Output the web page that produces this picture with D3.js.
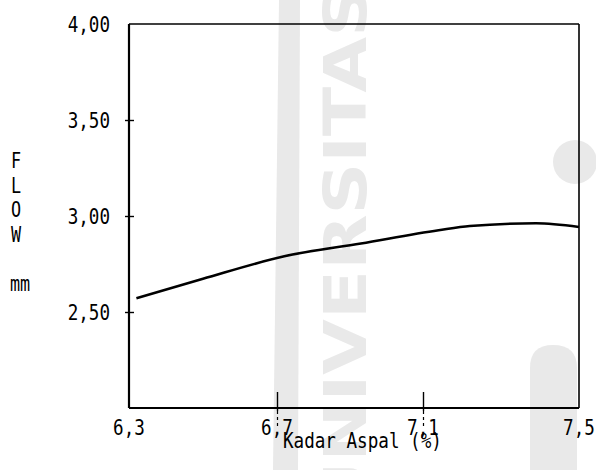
<!DOCTYPE html>
<html>
<head>
<meta charset="utf-8">
<script src="https://cdn.jsdelivr.net/npm/d3@7"></script>
<style>
  html, body { margin: 0; padding: 0; background: #fff; }
  svg { display: block; }
</style>
</head>
<body>
<svg id="chart" width="596" height="470"></svg>
<script>
// Flow (mm) against asphalt content (%)
const kadarAspal = [6.32, 6.5, 6.72, 6.93, 7.14, 7.22, 7.39, 7.5];
const flow       = [2.571, 2.673, 2.79, 2.857, 2.926, 2.948, 2.962, 2.943];

const xTickValues = [6.3, 6.7, 7.1, 7.5];
const xTickLabels = ["6,3", "6,7", "7,1", "7,5"];
const yTickValues = [2.5, 3.0, 3.5, 4.0];
const yTickLabels = ["2,50", "3,00", "3,50", "4,00"];

const xTitle = "Kadar Aspal (%)";
const yTitleLetters = ["F", "L", "O", "W"];
const yUnit = "mm";

const svg = d3.select("#chart");
const plotLeft = 129, plotRight = 579, plotTop = 24, plotBottom = 408;

// the hand-ruled x axis has slightly uneven tick spacing
const x = d3.scaleLinear().domain(xTickValues).range([plotLeft, 277, 423, plotRight]);
const y = d3.scaleLinear().domain([2.0, 4.0]).range([plotBottom, plotTop]);

const mono = "'DejaVu Sans Mono', 'Liberation Mono', monospace";
const squeeze = 0.8;

// faint background emblem
const wm = svg.append("g").attr("fill", "#e9e9e9").attr("stroke", "none");
wm.append("path").attr("d", "M279,0 L300,0 L298,470 L273,470 Z");
wm.append("text")
  .attr("transform", "translate(366,520) rotate(-90)")
  .attr("font-family", "'DejaVu Sans', sans-serif")
  .attr("font-weight", "bold")
  .attr("font-size", 58)
  .attr("textLength", 535)
  .attr("lengthAdjust", "spacingAndGlyphs")
  .text("UNIVERSITAS");
wm.append("path").attr("d", "M530,470 L530,368 Q530,345 553,345 Q577,345 577,368 L577,470 Z");
wm.append("circle").attr("cx", 575).attr("cy", 162).attr("r", 22);

// plot frame
svg.append("line").attr("x1", plotLeft).attr("x2", plotRight).attr("y1", plotTop).attr("y2", plotTop)
  .attr("stroke", "#000").attr("stroke-width", 1.6);
svg.append("line").attr("x1", plotRight).attr("x2", plotRight).attr("y1", plotTop).attr("y2", plotBottom)
  .attr("stroke", "#000").attr("stroke-width", 1.6);

// y axis
const yAxis = d3.axisLeft(y).tickValues(yTickValues).tickSize(4).tickFormat("");
const gy = svg.append("g").attr("transform", `translate(${plotLeft},0)`).call(yAxis);
gy.select(".domain").attr("stroke-width", 2.2).attr("d", `M0,${plotTop}V${plotBottom}`);
gy.selectAll(".tick line")
  .attr("x1", d => d === 4.0 ? 0 : 5)
  .attr("x2", d => d === 4.0 ? 0 : -4)
  .attr("stroke-width", 1.4);

// x axis
const xAxis = d3.axisBottom(x).tickValues(xTickValues).tickSize(0).tickFormat("");
const gx = svg.append("g").attr("transform", `translate(0,${plotBottom})`).call(xAxis);
gx.select(".domain").attr("stroke-width", 2.2).attr("d", `M${plotLeft},0H${plotRight}`);
gx.selectAll(".tick").filter(d => d > 6.3 && d < 7.5).each(function () {
  const t = d3.select(this);
  t.append("line").attr("y1", -16).attr("y2", 3).attr("stroke", "#000").attr("stroke-width", 1.4);
  t.append("line").attr("y1", 3).attr("y2", 20).attr("stroke", "#000")
    .attr("stroke-width", 1.2).attr("stroke-dasharray", "3,3");
});

// condensed monospace label helper
function label(px, py, str, anchor, size) {
  svg.append("text")
    .attr("transform", `translate(${px},${py}) scale(${squeeze},1)`)
    .attr("font-family", mono)
    .attr("font-size", size)
    .attr("text-anchor", anchor)
    .attr("fill", "#000")
    .text(str);
}

yTickValues.forEach((v, i) => label(110, y(v) + 8, yTickLabels[i], "end", 22));
xTickValues.forEach((v, i) => label(x(v), 435, xTickLabels[i], "middle", 22));

label(283, 448, xTitle, "start", 22);
yTitleLetters.forEach((c, i) => label(16, 168 + i * 24.5, c, "middle", 21));
label(20, 291, yUnit, "middle", 21);

// flow curve
const line = d3.line()
  .x((d, i) => x(kadarAspal[i]))
  .y(d => y(d))
  .curve(d3.curveMonotoneX);

svg.append("path")
  .datum(flow)
  .attr("fill", "none")
  .attr("stroke", "#000")
  .attr("stroke-width", 2.6)
  .attr("stroke-linejoin", "round")
  .attr("d", line);
</script>
</body>
</html>
